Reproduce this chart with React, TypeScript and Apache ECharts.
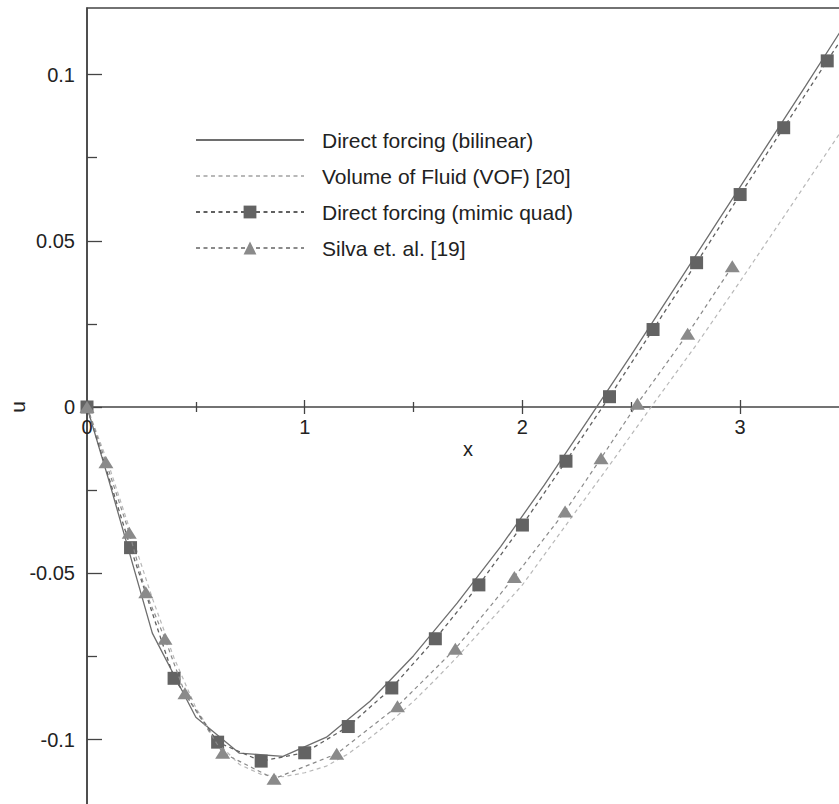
import React, { useEffect, useRef } from "react";
import * as echarts from "echarts";

// Axis ticks
const xMajorTicks = [0, 1, 2, 3];
const xMinorTicks = [0.5, 1.5, 2.5];
const yMajorTicks = [-0.1, -0.05, 0, 0.05, 0.1];
const yMinorTicks = [-0.075, -0.025, 0.025, 0.075];

const seriesNames = [
  "Direct forcing (bilinear)",
  "Volume of Fluid (VOF) [20]",
  "Direct forcing (mimic quad)",
  "Silva et. al. [19]",
];

// Direct forcing (bilinear) - solid line
const bilinearX = [0, 0.1, 0.3, 0.5, 0.7, 0.9, 1.1, 1.3, 1.5, 1.7, 1.9, 2.1, 2.3, 2.5, 2.7, 2.9, 3.1, 3.3, 3.5];
const bilinearU = [0, -0.022, -0.068, -0.0933, -0.1041, -0.1051, -0.0993, -0.0885, -0.0748, -0.059, -0.042, -0.0235, -0.004, 0.0157, 0.0358, 0.0561, 0.0763, 0.0965, 0.117];

// Volume of Fluid (VOF) - light dashed line
const vofX = [0, 0.1, 0.2, 0.3, 0.4, 0.5, 0.6, 0.7, 0.8, 0.9, 1.0, 1.1, 1.2, 1.3, 1.4, 1.5, 1.6, 1.7, 1.8, 1.9, 2.0, 2.2, 2.4, 2.6, 2.8, 3.0, 3.2, 3.4, 3.6];
const vofU = [0, -0.0175, -0.0375, -0.0575, -0.0755, -0.0905, -0.101, -0.1075, -0.1105, -0.1112, -0.11, -0.108, -0.1043, -0.0995, -0.0943, -0.0885, -0.082, -0.0752, -0.068, -0.0608, -0.0535, -0.0355, -0.0175, 0.0008, 0.0188, 0.0378, 0.0572, 0.0767, 0.0962];

// Direct forcing (mimic quad) - squares
const mimicX = [0, 0.2, 0.4, 0.6, 0.8, 1.0, 1.2, 1.4, 1.6, 1.8, 2.0, 2.2, 2.4, 2.6, 2.8, 3.0, 3.2, 3.4, 3.6];
const mimicU = [0, -0.0423, -0.0816, -0.1008, -0.1065, -0.104, -0.0961, -0.0845, -0.0697, -0.0535, -0.0355, -0.0163, 0.0031, 0.0233, 0.0434, 0.0639, 0.084, 0.1041, 0.1241];

// Silva et al. - triangles
const silvaX = [0, 0.087, 0.194, 0.27, 0.358, 0.45, 0.623, 0.859, 1.147, 1.426, 1.692, 1.963, 2.196, 2.361, 2.528, 2.759, 2.964];
const silvaU = [0, -0.0166, -0.0378, -0.0557, -0.0697, -0.0861, -0.104, -0.1118, -0.1043, -0.09, -0.0727, -0.0511, -0.0314, -0.0154, 0.001, 0.022, 0.0423];

const pairs = (xs: number[], ys: number[]) => xs.map((x, i) => [x, ys[i]]);

// u range and x range
const U_MIN = -0.12;
const U_MAX = 0.12;
const X_MIN = 0;
const X_MAX = 3.5;

export default function App() {
  const ref = useRef<HTMLDivElement>(null);

  useEffect(() => {
    if (!ref.current) return;
    const chart = echarts.init(ref.current, null, { renderer: "svg" });
    const font = "'Liberation Sans', Arial, Helvetica, sans-serif";
    const axisColor = "#444";
    const textColor = "#222";
    const tickStyle = { color: axisColor, width: 1.3 };

    // Plot frame
    const gridLeft = 87;
    const gridTop = 8;
    const gridHeight = 798;
    const gridRight = -10;
    // Upper half grid whose bottom edge coincides with u = 0 of the main grid
    const upperHeight = (gridHeight * (U_MAX - 0)) / (U_MAX - U_MIN);

    const zeroAxis = (extra: any) => ({
      type: "value",
      gridIndex: 1,
      min: X_MIN,
      max: X_MAX,
      position: "bottom",
      splitLine: { show: false },
      axisLine: { show: false, onZero: false },
      axisLabel: { show: false },
      ...extra,
    });

    chart.setOption({
      animation: false,
      backgroundColor: "#ffffff",
      grid: [
        {
          left: gridLeft,
          top: gridTop,
          right: gridRight,
          height: gridHeight,
          outerBoundsMode: "none",
          containLabel: false,
          show: true,
          borderColor: axisColor,
          borderWidth: 1.5,
          backgroundColor: "transparent",
        },
        {
          left: gridLeft,
          top: gridTop,
          right: gridRight,
          height: upperHeight,
          outerBoundsMode: "none",
          containLabel: false,
          show: false,
        },
      ],
      legend: {
        orient: "vertical",
        left: 190,
        top: 124,
        itemWidth: 108,
        itemHeight: 16,
        itemGap: 14,
        selectedMode: false,
        data: [
          { name: seriesNames[0], itemStyle: { opacity: 0 } },
          { name: seriesNames[1], itemStyle: { opacity: 0 } },
          { name: seriesNames[2] },
          { name: seriesNames[3] },
        ],
        textStyle: {
          fontSize: 21,
          fontFamily: font,
          color: textColor,
          lineHeight: 22,
          padding: [0, 0, 0, 13],
        },
      },
      xAxis: [
        // main data axis (hidden, frame drawn by grid border)
        {
          type: "value",
          gridIndex: 0,
          min: X_MIN,
          max: X_MAX,
          show: false,
          splitLine: { show: false },
        },
        // x axis drawn along u = 0
        zeroAxis({
          axisLine: { show: true, onZero: false, lineStyle: { color: axisColor, width: 1.5 } },
          axisTick: { show: true, customValues: xMajorTicks, length: 7, inside: false, lineStyle: tickStyle },
          axisLabel: { show: true, customValues: xMajorTicks, margin: 10, fontSize: 20, color: textColor, fontFamily: font },
          name: "x",
          nameLocation: "middle",
          nameGap: 32,
          nameMoveOverlap: false,
          nameTextStyle: { fontSize: 20, color: textColor, fontFamily: font },
        }),
        zeroAxis({
          axisTick: { show: true, customValues: xMajorTicks, length: 7, inside: true, lineStyle: tickStyle },
        }),
        zeroAxis({
          axisTick: { show: true, customValues: xMinorTicks, length: 5, inside: false, lineStyle: tickStyle },
        }),
        zeroAxis({
          axisTick: { show: true, customValues: xMinorTicks, length: 5, inside: true, lineStyle: tickStyle },
        }),
      ],
      yAxis: [
        {
          type: "value",
          gridIndex: 0,
          min: U_MIN,
          max: U_MAX,
          position: "left",
          splitLine: { show: false },
          axisLine: { show: true, onZero: false, lineStyle: { color: axisColor, width: 1.5 } },
          axisTick: { show: true, customValues: yMajorTicks, length: 15, inside: true, lineStyle: tickStyle },
          axisLabel: { show: true, customValues: yMajorTicks, margin: 12, fontSize: 20, color: textColor, fontFamily: font },
          name: "u",
          nameLocation: "middle",
          nameGap: 59,
          nameMoveOverlap: false,
          nameTextStyle: { fontSize: 21, color: textColor, fontFamily: font },
        },
        {
          type: "value",
          gridIndex: 0,
          min: U_MIN,
          max: U_MAX,
          position: "left",
          splitLine: { show: false },
          axisLine: { show: false, onZero: false },
          axisTick: { show: true, customValues: yMinorTicks, length: 10, inside: true, lineStyle: tickStyle },
          axisLabel: { show: false },
        },
        {
          type: "value",
          gridIndex: 1,
          min: 0,
          max: U_MAX,
          show: false,
          splitLine: { show: false },
        },
      ],
      series: [
        {
          name: seriesNames[0],
          type: "line",
          xAxisIndex: 0,
          yAxisIndex: 0,
          data: pairs(bilinearX, bilinearU),
          symbol: "none",
          lineStyle: { color: "#6e6e6e", width: 1.3, type: "solid" },
          itemStyle: { color: "#6e6e6e" },
          z: 2,
        },
        {
          name: seriesNames[1],
          type: "line",
          xAxisIndex: 0,
          yAxisIndex: 0,
          data: pairs(vofX, vofU),
          symbol: "none",
          lineStyle: { color: "#b8b8b8", width: 1.2, type: [4, 3.5] },
          itemStyle: { color: "#b8b8b8" },
          z: 2,
        },
        {
          name: seriesNames[2],
          type: "line",
          xAxisIndex: 0,
          yAxisIndex: 0,
          data: pairs(mimicX, mimicU),
          symbol: "rect",
          symbolSize: 13,
          showAllSymbol: true,
          lineStyle: { color: "#606060", width: 1.3, type: [4, 3.5] },
          itemStyle: { color: "#636363", borderWidth: 0 },
          z: 3,
        },
        {
          name: seriesNames[3],
          type: "line",
          xAxisIndex: 0,
          yAxisIndex: 0,
          data: pairs(silvaX, silvaU),
          symbol: "triangle",
          symbolSize: [15, 12],
          showAllSymbol: true,
          lineStyle: { color: "#8a8a8a", width: 1.2, type: [4, 3.5] },
          itemStyle: { color: "#8a8a8a", borderWidth: 0 },
          z: 4,
        },
      ],
    });

    return () => {
      chart.dispose();
    };
  }, []);

  return (
    <div
      ref={ref}
      style={{ position: "fixed", left: 0, top: 0, width: 839, height: 804, background: "#fff" }}
    />
  );
}
